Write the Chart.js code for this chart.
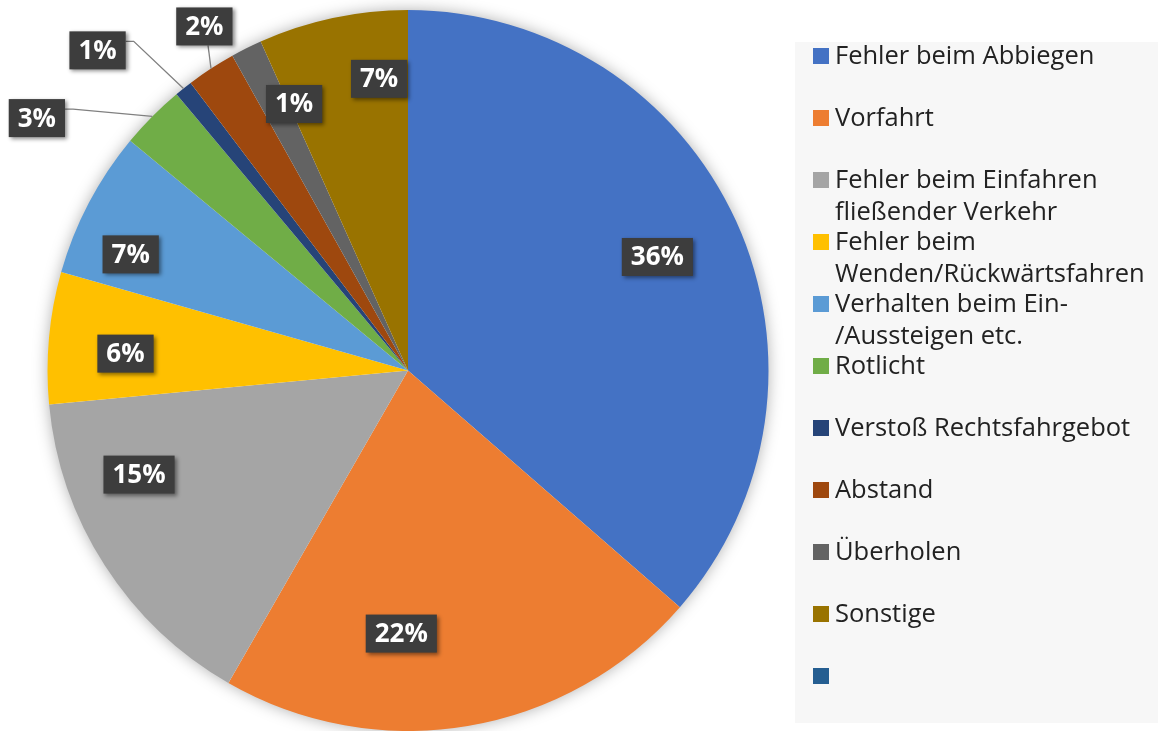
<!DOCTYPE html>
<html>
<head>
<meta charset="utf-8">
<script src="https://cdn.jsdelivr.net/npm/chart.js@4"></script>
<style>
  html, body { margin: 0; padding: 0; background: #fff; overflow: hidden; }
  #wrap { position: relative; width: 1158px; height: 731px; }
  #pieChart { position: absolute; left: 0; top: 0; }
  #legend {
    position: absolute; left: 795px; top: 42px; width: 363px; height: 681px;
    background: #f7f7f7; font-family: "Open Sans", sans-serif; font-size: 25.5px;
    color: #222; list-style: none; margin: 0; padding: 0;
  }
  #legend li { position: relative; top: -4px; height: 62px; line-height: 32px; padding-left: 40px; white-space: nowrap; }
  #legend li span.box { position: absolute; left: 18px; top: 10px; width: 16px; height: 16px; }
</style>
</head>
<body>
<div id="wrap">
  <canvas id="pieChart" width="1158" height="731"></canvas>
  <ul id="legend"></ul>
</div>
<script>
const categories = [
    'Fehler beim Abbiegen',
    'Vorfahrt',
    ['Fehler beim Einfahren', 'fließender Verkehr'],
    ['Fehler beim', 'Wenden/Rückwärtsfahren'],
    ['Verhalten beim Ein-', '/Aussteigen etc.'],
    'Rotlicht',
    'Verstoß Rechtsfahrgebot',
    'Abstand',
    'Überholen',
    'Sonstige',
    ''
];
const shares = [36.4, 21.9, 15.2, 5.9, 6.6, 2.9, 0.8, 2.2, 1.4, 6.7, 0];
const colors = ['#4472C4', '#ED7D31', '#A5A5A5', '#FFC000', '#5B9BD5', '#70AD47',
                '#264478', '#9E480E', '#636363', '#997300', '#255E91'];

// label layout: radius as fraction of the pie radius, angle nudge in degrees
const labelRadius = [0.76, 0.73, 0.80, 0.785, 0.834, 1.245, 1.237, 1.109, 0.804, 0.813, 0];
const labelNudge  = [0, 11, 11.6, -1.8, -5, -10.6, -5.6, 2.5, 3.5, 6.4, 0];

// legend
const legendEl = document.getElementById('legend');
legendEl.innerHTML = categories.map((c, i) => {
    const text = Array.isArray(c) ? c.join('<br>') : c;
    return `<li><span class="box" style="background:${colors[i]}"></span>${text}</li>`;
}).join('');

const pieShadow = {
    id: 'pieShadow',
    beforeDatasetsDraw(chart) {
        const arc = chart.getDatasetMeta(0).data[0];
        const ctx = chart.ctx;
        ctx.save();
        ctx.shadowColor = 'rgba(0,0,0,0.35)';
        ctx.shadowBlur = 16;
        ctx.fillStyle = '#fff';
        ctx.beginPath();
        ctx.arc(arc.x, arc.y, arc.outerRadius - 1, 0, Math.PI * 2);
        ctx.fill();
        ctx.restore();
    }
};

const pctLabels = {
    id: 'pctLabels',
    afterDatasetsDraw(chart) {
        const ctx = chart.ctx;
        const meta = chart.getDatasetMeta(0);
        ctx.save();
        ctx.font = 'bold 26px "Open Sans", sans-serif';
        ctx.textAlign = 'center';
        ctx.textBaseline = 'middle';
        meta.data.forEach((arc, i) => {
            const v = shares[i];
            if (!v) return;
            const R = arc.outerRadius;
            const mid = (arc.startAngle + arc.endAngle) / 2;
            const a = mid + labelNudge[i] * Math.PI / 180;
            const x = arc.x + Math.cos(a) * R * labelRadius[i];
            const y = arc.y + Math.sin(a) * R * labelRadius[i];
            const txt = Math.round(v) + '%';
            const w = ctx.measureText(txt).width + 18;
            const h = 38;
            const left = x - w / 2, top = y - h / 2;

            if (labelRadius[i] > 1) {
                const px = arc.x + Math.cos(mid) * R;
                const py = arc.y + Math.sin(mid) * R;
                ctx.strokeStyle = '#808080';
                ctx.lineWidth = 1.3;
                ctx.beginPath();
                if (px > left + w) {
                    ctx.moveTo(left + w, top + 10);
                    ctx.lineTo(left + w + 8, top + 10);
                } else {
                    ctx.moveTo(px - 3, top + h);
                }
                ctx.lineTo(px, py);
                ctx.stroke();
            }

            ctx.save();
            ctx.shadowColor = 'rgba(0,0,0,0.45)';
            ctx.shadowBlur = 4;
            ctx.shadowOffsetX = 2;
            ctx.shadowOffsetY = 2;
            ctx.fillStyle = '#3d3d3d';
            ctx.fillRect(left, top, w, h);
            ctx.restore();
            ctx.fillStyle = '#fff';
            ctx.fillText(txt, x, y + 1);
        });
        ctx.restore();
    }
};

new Chart(document.getElementById('pieChart'), {
    type: 'pie',
    data: {
        labels: categories,
        datasets: [{
            data: shares,
            backgroundColor: colors,
            borderWidth: 0,
            hoverOffset: 0
        }]
    },
    options: {
        responsive: false,
        animation: false,
        events: [],
        layout: { padding: { left: 47, right: 389, top: 10, bottom: 0 } },
        plugins: {
            legend: { display: false },
            tooltip: { enabled: false }
        }
    },
    plugins: [pieShadow, pctLabels]
});
</script>
</body>
</html>
